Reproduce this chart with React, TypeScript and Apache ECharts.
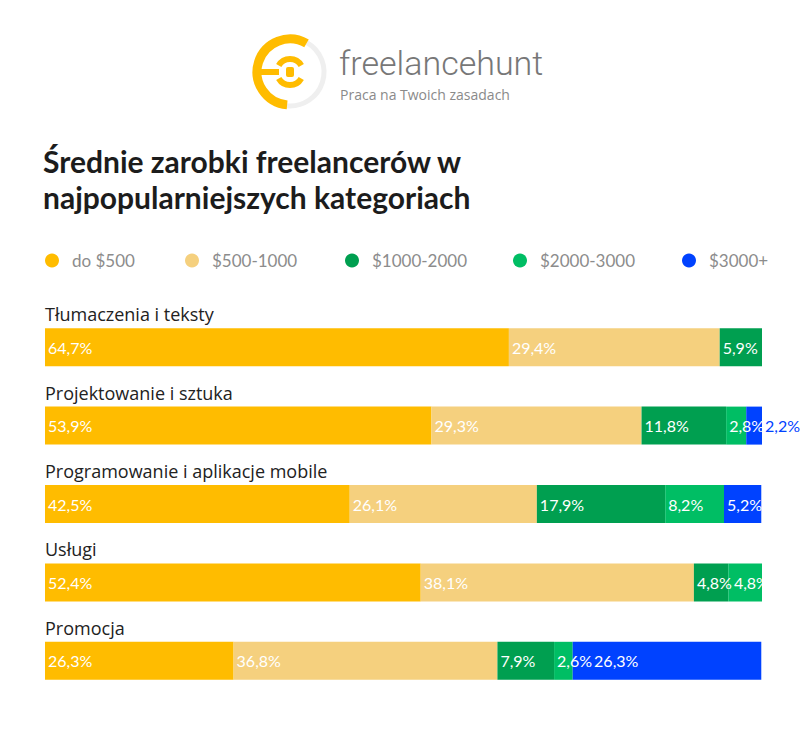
import React, { useEffect, useRef } from "react";
import * as echarts from "echarts";

const categories = [
  "Tłumaczenia i teksty",
  "Projektowanie i sztuka",
  "Programowanie i aplikacje mobile",
  "Usługi",
  "Promocja",
];
const seriesNames = ["do $500", "$500-1000", "$1000-2000", "$2000-3000", "$3000+"];
const do500 = [64.7, 53.9, 42.5, 52.4, 26.3];
const r500to1000 = [29.4, 29.3, 26.1, 38.1, 36.8];
const r1000to2000 = [5.9, 11.8, 17.9, 4.8, 7.9];
const r2000to3000 = [0, 2.8, 8.2, 4.8, 2.6];
const r3000plus = [0, 2.2, 5.2, 0, 26.3];
const colors = ["#FFBC00", "#F5D07E", "#009F50", "#00BE64", "#0042FF"];
const legendLefts = [45, 185, 345, 513, 682];

const PLOT_W = 717;
const LABEL_W = 36; // approx width of a label such as "2,6%" incl. padding

export default function App() {
  const ref = useRef<HTMLDivElement>(null);
  useEffect(() => {
    if (!ref.current) return;
    const chart = echarts.init(ref.current, null, { renderer: "svg" });
    const values = [do500, r500to1000, r1000to2000, r2000to3000, r3000plus];
    const deg = Math.PI / 180;

    // per-item label placement so that labels of tiny segments stay readable
    const seriesData = values.map((arr, si) =>
      arr.map((v, ci) => {
        const item: any = { value: v };
        const nonzero = values.map((a) => a[ci]).map((x, k) => ({ x, k })).filter((o) => o.x > 0);
        const idx = nonzero.findIndex((o) => o.k === si);
        if (idx < 0) return item;
        const isLast = idx === nonzero.length - 1;
        const w = (v / 100) * PLOT_W;
        if (isLast && w < LABEL_W - 6) {
          item.label = { position: "right", distance: 3, color: colors[si] };
        } else if (idx > 0) {
          const prev = nonzero[idx - 1];
          const prevW = (prev.x / 100) * PLOT_W;
          if (prevW < LABEL_W) {
            item.label = { offset: [LABEL_W - prevW + 1, 0] };
          }
        }
        return item;
      })
    );

    const option: any = {
      animation: false,
      backgroundColor: "#ffffff",
      title: {
        text: "Średnie zarobki freelancerów w\nnajpopularniejszych kategoriach",
        left: 43,
        top: 143,
        padding: 0,
        textStyle: {
          fontFamily: "Lato",
          fontWeight: "bold",
          fontSize: 30,
          lineHeight: 36,
          color: "#1c1c1c",
        },
      },
      legend: seriesNames.map((n, i) => ({
        data: [n],
        left: legendLefts[i],
        top: 252,
        padding: 0,
        icon: "circle",
        itemWidth: 30,
        itemHeight: 14,
        selectedMode: false,
        textStyle: { fontFamily: "Lato", fontSize: 17, color: "#8c8c8c" },
      })),
      grid: { left: 45, right: 38, top: 308, height: 392 },
      xAxis: { type: "value", min: 0, max: 100, show: false },
      yAxis: {
        type: "category",
        inverse: true,
        data: categories,
        axisLine: { show: false },
        axisTick: { show: false },
        splitLine: { show: false },
        axisLabel: {
          inside: true,
          margin: 0,
          align: "left",
          verticalAlign: "bottom",
          padding: [0, 0, 24, 0],
          fontFamily: "Open Sans",
          fontSize: 18,
          color: "#222222",
        },
      },
      graphic: [
        {
          type: "arc",
          shape: { cx: 290, cy: 72, r: 34, startAngle: -60 * deg, endAngle: 95 * deg, clockwise: true },
          style: { stroke: "#efefef", lineWidth: 5, fill: null },
        },
        {
          type: "arc",
          shape: { cx: 290, cy: 72, r: 33, startAngle: -60 * deg, endAngle: 95 * deg, clockwise: false },
          style: { stroke: "#FFBC00", lineWidth: 9, fill: null },
        },
        {
          type: "sector",
          shape: { cx: 290, cy: 72, r0: 10, r: 16, startAngle: -150 * deg, endAngle: -30 * deg, clockwise: true },
          style: { fill: "#FFBC00" },
        },
        {
          type: "sector",
          shape: { cx: 290, cy: 72, r0: 10, r: 16, startAngle: 30 * deg, endAngle: 150 * deg, clockwise: true },
          style: { fill: "#FFBC00" },
        },
        {
          type: "rect",
          shape: { x: 257, y: 69, width: 22, height: 6 },
          style: { fill: "#FFBC00" },
        },
        {
          type: "rect",
          shape: { x: 286, y: 67, width: 8, height: 10, r: 2 },
          style: { fill: "#FFBC00" },
        },
        {
          type: "text",
          left: 339,
          top: 46,
          style: {
            text: "freelancehunt",
            fontFamily: "Roboto",
            fontWeight: 300,
            fontSize: 34,
            lineHeight: 30,
            fill: "#777777",
          },
        },
        {
          type: "text",
          left: 340,
          top: 87,
          style: {
            text: "Praca na Twoich zasadach",
            fontFamily: "Open Sans",
            fontSize: 14,
            lineHeight: 15,
            fill: "#8a8a8a",
          },
        },
      ],
      series: seriesNames.map((n, i) => ({
        name: n,
        type: "bar",
        stack: "total",
        barWidth: 38,
        itemStyle: { color: colors[i] },
        label: {
          show: true,
          position: "insideLeft",
          distance: 3,
          color: "#ffffff",
          fontFamily: "Lato",
          fontSize: 16,
          formatter: (p: any) => (p.value ? Number(p.value).toFixed(1).replace(".", ",") + "%" : ""),
        },
        data: seriesData[i],
      })),
    };
    chart.setOption(option);
    return () => chart.dispose();
  }, []);
  return (
    <div
      ref={ref}
      style={{ position: "fixed", left: 0, top: 0, width: 800, height: 731, background: "#fff" }}
    />
  );
}
